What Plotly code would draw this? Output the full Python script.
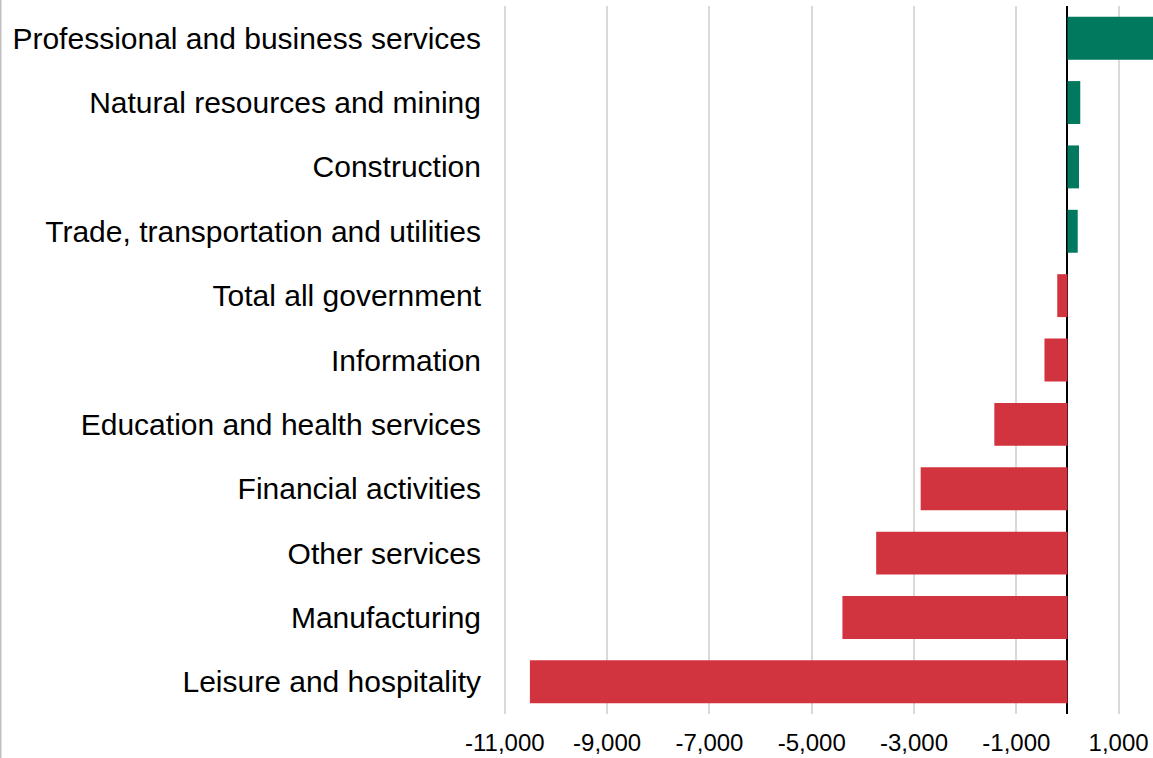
import plotly.graph_objects as go

categories = [
    "Professional and business services",
    "Natural resources and mining",
    "Construction",
    "Trade, transportation and utilities",
    "Total all government",
    "Information",
    "Education and health services",
    "Financial activities",
    "Other services",
    "Manufacturing",
    "Leisure and hospitality",
]
values = [1690, 250, 225, 200, -200, -450, -1430, -2870, -3740, -4400, -10510]
tick_vals = [-11000, -9000, -7000, -5000, -3000, -1000, 1000]
tick_text = ["-11,000", "-9,000", "-7,000", "-5,000", "-3,000", "-1,000", "1,000"]

GREEN = "#00795F"
RED = "#D1343E"
colors = [GREEN if v >= 0 else RED for v in values]

W, H = 1153, 758
ML, MR, MT, MB = 490, 0, 6, 44
plot_w = W - ML - MR

fig = go.Figure(
    go.Bar(
        x=values,
        y=categories,
        orientation="h",
        marker=dict(color=colors, line=dict(width=0)),
        hoverinfo="x+y",
    )
)

fig.update_layout(
    width=W,
    height=H,
    margin=dict(l=ML, r=MR, t=MT, b=MB, pad=0),
    paper_bgcolor="white",
    plot_bgcolor="white",
    bargap=0.333,
    showlegend=False,
    font=dict(family="Liberation Sans, Arial, sans-serif", color="#000000"),
    xaxis=dict(
        range=[-11290, 1672],
        tickvals=tick_vals,
        ticktext=tick_text,
        showgrid=True,
        gridcolor="#D9D9D9",
        gridwidth=2,
        zeroline=True,
        zerolinecolor="#000000",
        zerolinewidth=2,
        showline=False,
        ticks="",
        tickfont=dict(size=24, color="#000000"),
        ticklabelstandoff=12,
        fixedrange=True,
    ),
    yaxis=dict(
        autorange="reversed",
        showgrid=False,
        showline=False,
        ticks="",
        tickfont=dict(size=30, color="#000000"),
        ticklabelstandoff=8,
        fixedrange=True,
    ),
    shapes=[
        dict(
            type="line",
            xref="paper",
            yref="paper",
            x0=-(ML - 0.75) / plot_w,
            x1=-(ML - 0.75) / plot_w,
            y0=-MB / (H - MT - MB),
            y1=1 + MT / (H - MT - MB),
            line=dict(color="#BFBFBF", width=1.5),
        )
    ],
)

fig.write_html(
    "out.html",
    config={"displayModeBar": False},
    post_script="document.body.style.margin='0';document.body.style.overflow='hidden';",
)
